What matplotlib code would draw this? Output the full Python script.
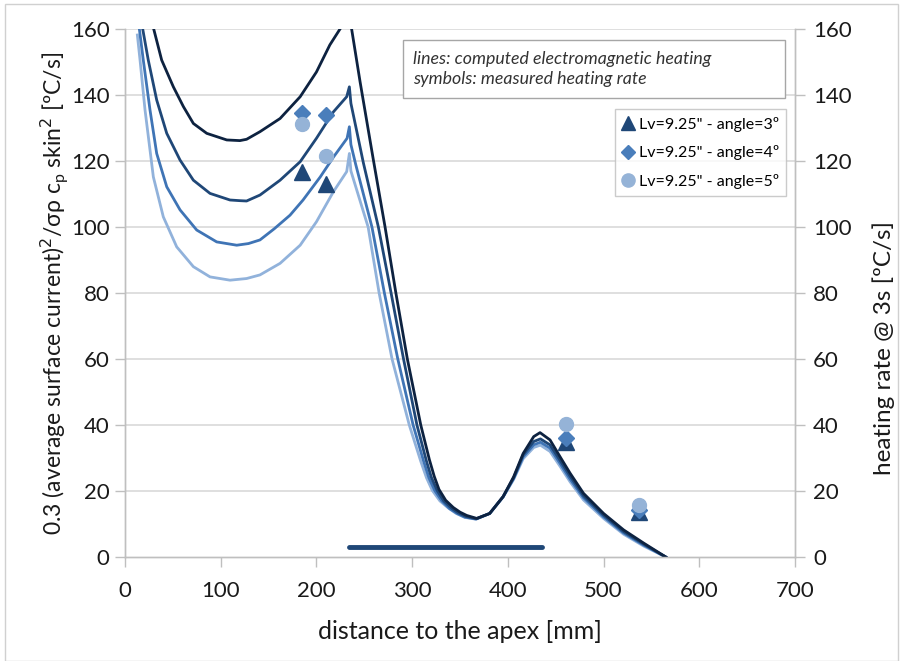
import matplotlib
matplotlib.use("Agg")
import matplotlib.pyplot as plt
from matplotlib.patches import Rectangle

plt.rcParams['font.family'] = ['Lato', 'DejaVu Sans']

# ---- computed lines (darkest -> lightest) ----
x_l1 = [21, 26, 30, 38.3, 50.5, 61, 71.4, 85.4, 106.3, 120, 127, 141, 162, 183, 200, 214, 225, 234,
        245.6, 259.5, 271.7, 283, 289, 295, 302, 309, 318, 323, 328, 335, 343, 350, 357, 367.5, 381,
        395, 406, 416, 427, 433.6, 444, 454.5, 465, 479, 500, 521, 542, 565]
y_l1 = [180, 167, 160, 150.6, 142.5, 136.5, 131.4, 128.4, 126.4, 126.2, 126.6, 128.9, 132.9, 139.5,
        147, 155.2, 160.2, 165, 144, 120.3, 100, 80, 70, 60, 50, 40, 29.5, 24.5, 20.5, 17.2, 15,
        13.6, 12.6, 11.7, 13.2, 18.3, 24.3, 31.4, 36.5, 37.7, 35.5, 30.4, 25.4, 19.3, 13.2, 8.2,
        4.2, 0]

x_l2 = [13, 18.5, 24.3, 33.1, 43.6, 57.5, 71.4, 88.8, 109.7, 120, 127, 141, 162, 183, 200, 217.7,
        231.6, 234.4, 236, 249, 264.7, 278, 291, 305, 315, 320, 326, 333, 341, 348, 356, 367, 381,
        395, 406, 416, 427, 434, 444, 454.5, 465, 479, 500, 521, 542, 565]
y_l2 = [175, 160, 150.6, 138.5, 128.4, 120.3, 114.2, 110.2, 108.2, 108, 107.9, 109.7, 114.2, 119.8,
        126.9, 134.9, 139.5, 142.5, 137.5, 119.5, 100, 80, 60, 40, 29, 24.2, 20.2, 17, 14.8, 13.4,
        12.3, 11.6, 13.2, 18.3, 24, 31, 35, 35.8, 34, 29.3, 24.5, 18.6, 12.7, 7.7, 3.9, 0]

x_l3 = [12, 15, 19.1, 26.1, 33.1, 43.6, 57.5, 74.9, 95.8, 116.7, 129, 141, 156, 172.4, 186, 204,
        218, 232, 234.4, 236, 241, 258, 271, 285, 301, 312, 317.5, 323.5, 331, 339, 347, 355, 367,
        381, 395, 406, 416, 427, 434, 444, 454.5, 465, 479, 500, 521, 542, 565]
y_l3 = [170, 160, 150.6, 135.5, 122.3, 112.2, 105.2, 99.1, 95.5, 94.5, 95, 96.1, 99.5, 103.6, 108.2,
        115.2, 121.3, 126.9, 130.4, 125, 119, 100, 80, 60, 40, 29, 24, 20.2, 17, 14.7, 13.2, 12.1,
        11.5, 13.2, 18.2, 23.8, 30.4, 34, 34.8, 33, 28.4, 23.6, 18, 12.2, 7.3, 3.6, 0]

x_l4 = [12.9, 15.7, 20.9, 29.6, 40, 54, 71.4, 88.8, 109.7, 120, 127, 141, 162, 183, 200, 217.7,
        231.6, 234.4, 236, 254, 265.5, 279, 297, 309, 315, 321, 329, 338, 346, 355, 366, 381, 395,
        406, 416, 427, 434, 444, 454.5, 465, 479, 500, 521, 542, 565]
y_l4 = [158.2, 150.6, 135.5, 115.2, 103.1, 94, 88, 84.9, 83.9, 84.2, 84.4, 85.5, 89, 94.5, 101.6,
        110.7, 116.8, 122.3, 117, 100, 80, 60, 40, 29, 24, 20.2, 17, 14.8, 13.2, 12, 11.5, 13.2,
        18.2, 23.5, 29.8, 33.2, 33.9, 32, 27.5, 22.8, 17.3, 11.7, 6.9, 3.3, 0]

line_colors = ['#0d2240', '#1f4777', '#3f74b5', '#91b2db']

# ---- measured symbols ----
meas_x = [184.5, 209.5, 461, 537]
meas_a3 = [116.8, 113.2, 34.8, 13.6]
meas_a4 = [134.5, 133.9, 36.0, 14.2]
meas_a5 = [131.2, 121.5, 40.3, 15.8]
labels = ['Lv=9.25" - angle=3º', 'Lv=9.25" - angle=4º', 'Lv=9.25" - angle=5º']

# ---- horizontal bar ----
bar_x = [234.5, 436]
bar_y = [3, 3]

fig = plt.figure(figsize=(9.02, 6.61), dpi=100)
ax = fig.add_axes([0.1386, 0.1573, 0.7428, 0.7987])
ax2 = ax.twinx()

grid_c = '#d9d9d9'
for yv in range(20, 161, 20):
    ax.axhline(yv, color=grid_c, lw=1.2, zorder=0)

for xs, ys, c in zip([x_l4, x_l3, x_l2, x_l1], [y_l4, y_l3, y_l2, y_l1], line_colors[::-1]):
    ax.plot(xs, ys, color=c, lw=2.0, zorder=3, solid_joinstyle='round')

ax.plot(bar_x, bar_y, color='#1f4777', lw=3.5, solid_capstyle='round', zorder=3)

h1, = ax.plot(meas_x, meas_a3, ls='none', marker='^', ms=11, color='#1f4777', zorder=5)
h2, = ax.plot(meas_x, meas_a4, ls='none', marker='D', ms=8, color='#4a7ebb', zorder=5)
h3, = ax.plot(meas_x, meas_a5, ls='none', marker='o', ms=10, color='#95b3d7', zorder=5)

ax.set_xlim(0, 700)
ax.set_ylim(0, 160)
ax2.set_ylim(0, 160)
ax.set_xticks(range(0, 701, 100))
ax.set_yticks(range(0, 161, 20))
ax2.set_yticks(range(0, 161, 20))

for a in (ax, ax2):
    for s in a.spines.values():
        s.set_color('#bfbfbf')
        s.set_linewidth(1.0)
    a.spines['top'].set_visible(False)
    a.tick_params(axis='both', colors='#bfbfbf', labelcolor='#1a1a1a', labelsize=16,
                  length=7, width=1.0, direction='out')
ax.tick_params(axis='y', pad=4)
ax.tick_params(axis='x', pad=10)
ax2.tick_params(axis='y', pad=6)

ax.set_xlabel('distance to the apex [mm]', fontsize=18, color='#1a1a1a', labelpad=14)
ax.set_ylabel(r'0.3 (average surface current)$^2$/σρ c$_\mathregular{p}$ skin$^2$ [ºC/s]',
              fontsize=16.5, color='#1a1a1a', labelpad=0)
ax2.set_ylabel('heating rate @ 3s [ºC/s]', fontsize=17.5, color='#1a1a1a')
ax2.yaxis.set_label_coords(1.115, 0.395)

# annotation box
ax.add_patch(Rectangle((0.415, 0.869), 0.570, 0.110, transform=ax.transAxes,
                       fc='white', ec='#a6a6a6', lw=1.0, zorder=6))
ax.text(0.430, 0.924, 'lines: computed electromagnetic heating\nsymbols: measured heating rate',
        transform=ax.transAxes, fontsize=12.8, style='italic', color='#333333',
        va='center', ha='left', linespacing=1.3, zorder=7)

leg = ax.legend([h1, h2, h3], labels, loc='upper right', bbox_to_anchor=(0.987, 0.848),
                fontsize=11.5, frameon=True, fancybox=False, edgecolor='#bfbfbf',
                handlelength=0.8, handletextpad=0.25, borderpad=0.45, labelspacing=0.85,
                borderaxespad=0.0, markerscale=0.95)
leg.get_frame().set_linewidth(1.0)
leg.set_zorder(7)

fig.patches.append(Rectangle((0.006, 0.0), 0.99, 0.994, transform=fig.transFigure,
                             fill=False, ec='#d0d0d0', lw=1.0))

fig.savefig('out.png', dpi=100)
